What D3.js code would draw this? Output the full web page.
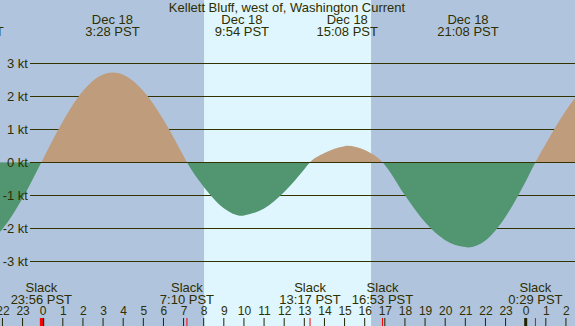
<!DOCTYPE html>
<html lang="en-us">
  <head>
    <meta charset="utf-8">
    <title>Kellett Bluff current</title>
    <script src="https://cdn.jsdelivr.net/npm/d3@7"></script>
    <style>
      body { margin: 0; background: #b0c4de; }
      svg { display: block; }
      text { font-family: "Liberation Sans", Arial, sans-serif; fill: #2e2e00; }
    </style>
    <script>

// times are "day HH:MM" in December, PST
var title = "Kellett Bluff, west of, Washington Current";

var curveTimes = [
  "17 20:32", "17 21:00", "17 22:00", "17 23:00", "17 23:56",
  "18 00:00", "18 01:00", "18 02:00", "18 03:00", "18 03:28", "18 04:00",
  "18 05:00", "18 06:00", "18 07:00", "18 07:10", "18 08:00", "18 09:00",
  "18 09:54", "18 10:00", "18 11:00", "18 12:00", "18 13:00", "18 13:17",
  "18 14:00", "18 15:00", "18 15:08", "18 16:00", "18 16:53", "18 17:00",
  "18 18:00", "18 19:00", "18 20:00", "18 21:00", "18 21:08", "18 22:00",
  "18 23:00", "19 00:00", "19 00:29", "19 01:00", "19 02:00", "19 03:00"
];
var curveSpeeds = [
  -2.60, -2.54, -2.02, -1.09, 0,
  0.08, 1.24, 2.16, 2.66, 2.72, 2.65,
  2.16, 1.29, 0.19, 0, -0.74, -1.39,
  -1.62, -1.61, -1.40, -0.90, -0.21, 0,
  0.28, 0.49, 0.50, 0.37, 0, -0.08,
  -1.00, -1.82, -2.36, -2.57, -2.58, -2.37,
  -1.65, -0.58, 0, 0.56, 1.57, 2.34
];

// max flood / max ebb labels along the top
var peakTimes  = ["17 20:32", "18 03:28", "18 09:54", "18 15:08", "18 21:08"];
var peakDates  = ["Dec 17", "Dec 18", "Dec 18", "Dec 18", "Dec 18"];
var peakLabels = ["20:32 PST", "3:28 PST", "9:54 PST", "15:08 PST", "21:08 PST"];

// slack water labels along the bottom
var slackTimes  = ["17 23:56", "18 07:10", "18 13:17", "18 16:53", "19 00:29"];
var slackLabels = ["23:56 PST", "7:10 PST", "13:17 PST", "16:53 PST", "0:29 PST"];

var sunrise = "18 08:01", sunset = "18 16:19";
var speedTicks = [3, 2, 1, 0, -1, -2, -3];

function hoursOf(s) {
  var p = s.split(" "), hm = p[1].split(":");
  return (+p[0] - 18) * 24 + (+hm[0]) + (+hm[1]) / 60;
}

function draw() {
  var width = 575, height = 326;

  var x = d3.scaleLinear().domain([0, 24]).range([42.7, 525.7]);
  var y = d3.scaleLinear().domain([-3, 3]).range([261.3, 63.3]);

  var svg = d3.select("body").append("svg")
      .attr("width", width)
      .attr("height", height);

  svg.append("rect")
      .attr("width", width)
      .attr("height", height)
      .attr("fill", "#b0c4de");

  svg.append("rect")
      .attr("x", x(hoursOf(sunrise)))
      .attr("width", x(hoursOf(sunset)) - x(hoursOf(sunrise)))
      .attr("height", height)
      .attr("fill", "#dff6fe");

  // grid lines (zero line drawn later, on top of the fill)
  svg.selectAll(".grid")
      .data(speedTicks.filter(function(d) { return d !== 0; }))
      .enter().append("line")
      .attr("class", "grid")
      .attr("x1", 30).attr("x2", width)
      .attr("y1", function(d) { return Math.round(y(d)) + 0.5; })
      .attr("y2", function(d) { return Math.round(y(d)) + 0.5; })
      .attr("stroke", "#333300")
      .attr("stroke-width", 1);

  var pts = curveTimes.map(function(t, i) { return [hoursOf(t), curveSpeeds[i]]; });

  var area = d3.area()
      .x(function(d) { return x(d[0]); })
      .y0(y(0))
      .y1(function(d) { return y(d[1]); })
      .curve(d3.curveMonotoneX);

  var defs = svg.append("defs");
  defs.append("clipPath").attr("id", "above")
    .append("rect").attr("width", width).attr("height", y(0));
  defs.append("clipPath").attr("id", "below")
    .append("rect").attr("y", y(0)).attr("width", width).attr("height", height - y(0));

  svg.append("path")
      .datum(pts)
      .attr("d", area)
      .attr("fill", "#bf9c7b")
      .attr("clip-path", "url(#above)");

  svg.append("path")
      .datum(pts)
      .attr("d", area)
      .attr("fill", "#519670")
      .attr("clip-path", "url(#below)");

  svg.append("line")
      .attr("x1", 30).attr("x2", width)
      .attr("y1", Math.round(y(0)) + 0.5)
      .attr("y2", Math.round(y(0)) + 0.5)
      .attr("stroke", "#333300");

  svg.selectAll(".ylab")
      .data(speedTicks)
      .enter().append("text")
      .attr("class", "ylab")
      .attr("x", 28)
      .attr("y", function(d) { return y(d) + 5; })
      .attr("text-anchor", "end")
      .style("font-size", "13px")
      .text(function(d) { return d + " kt"; });

  svg.append("text")
      .attr("x", 287)
      .attr("y", 12)
      .attr("text-anchor", "middle")
      .style("font-size", "13px")
      .text(title);

  var peaks = svg.selectAll(".peak")
      .data(peakTimes)
      .enter().append("g")
      .attr("class", "peak")
      .attr("transform", function(d) { return "translate(" + x(hoursOf(d)) + ",0)"; });
  peaks.append("text")
      .attr("y", 24)
      .attr("text-anchor", "middle")
      .style("font-size", "13px")
      .text(function(d, i) { return peakDates[i]; });
  peaks.append("text")
      .attr("y", 36)
      .attr("text-anchor", "middle")
      .style("font-size", "13px")
      .text(function(d, i) { return peakLabels[i]; });

  var slacks = svg.selectAll(".slack")
      .data(slackTimes)
      .enter().append("g")
      .attr("class", "slack")
      .attr("transform", function(d) { return "translate(" + x(hoursOf(d)) + ",0)"; });
  slacks.append("text")
      .attr("y", 292)
      .attr("text-anchor", "middle")
      .style("font-size", "13px")
      .text("Slack");
  slacks.append("text")
      .attr("y", 304)
      .attr("text-anchor", "middle")
      .style("font-size", "13px")
      .text(function(d, i) { return slackLabels[i]; });

  // hour axis along the bottom
  var hours = d3.range(-2, 27);
  var axis = d3.axisBottom(x)
      .tickValues(hours)
      .tickSize(0)
      .tickFormat(function(h) { return ((h % 24) + 24) % 24; });
  var ax = svg.append("g")
      .attr("transform", "translate(0,304)")
      .call(axis);
  ax.select(".domain").remove();
  ax.selectAll("text")
      .attr("y", 11)
      .attr("dy", null)
      .style("font-size", "12px")
      .style("font-family", "'Liberation Sans', Arial, sans-serif")
      .attr("fill", "#2e2e00");

  svg.selectAll(".htick")
      .data(hours)
      .enter().append("line")
      .attr("class", "htick")
      .attr("x1", function(h) { return x(h); })
      .attr("x2", function(h) { return x(h); })
      .attr("y1", 318).attr("y2", height)
      .attr("stroke", "#222200")
      .attr("stroke-width", function(h) { return h % 24 === 0 ? 3 : 1; });

  svg.selectAll(".stick")
      .data(slackTimes)
      .enter().append("line")
      .attr("class", "stick")
      .attr("x1", function(d) { return x(hoursOf(d)); })
      .attr("x2", function(d) { return x(hoursOf(d)); })
      .attr("y1", 318).attr("y2", height)
      .attr("stroke", "#ff0000")
      .attr("stroke-width", function(d, i) { return i === 0 ? 3 : 1; });
}

window.addEventListener("DOMContentLoaded", draw);

    </script>
  </head>
  <body>
  </body>
</html>
